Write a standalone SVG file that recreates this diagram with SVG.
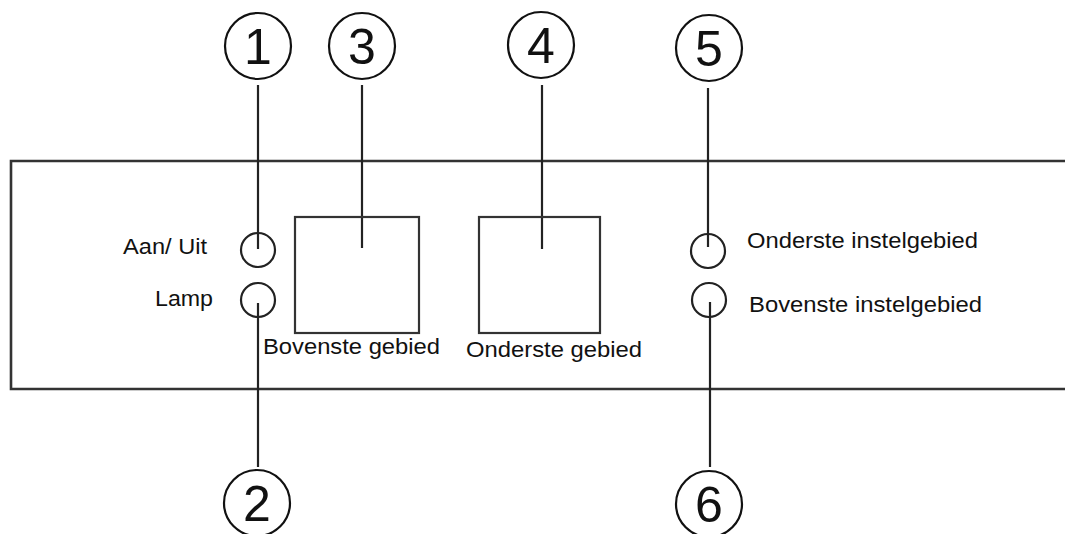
<svg xmlns="http://www.w3.org/2000/svg" width="1065" height="534" viewBox="0 0 1065 534">
<style>
.ln{stroke:#222;stroke-width:2.2;fill:none}
.bx{stroke:#333;stroke-width:2.2;fill:none}
.pn{stroke:#333;stroke-width:2.6;fill:none}
.cl{stroke:#111;stroke-width:2.2;fill:#fff}
.sc{stroke:#222;stroke-width:2.2;fill:none}
.num{font-family:"Liberation Sans",Arial,sans-serif;font-size:50px;fill:#111;text-anchor:middle}
.lb{font-family:"Liberation Sans",Arial,sans-serif;font-size:22px;fill:#111}
</style>
<rect width="1065" height="534" fill="#fff"/>
<g id="panel">
<path class="pn" d="M1066,161 H11 V389 H1066"/>
</g>
<g id="connectors">
<line class="ln" x1="258" y1="85" x2="258" y2="249"/>
<line class="ln" x1="258" y1="303" x2="258" y2="467"/>
<line class="ln" x1="362" y1="85" x2="362" y2="248"/>
<line class="ln" x1="542" y1="85" x2="542" y2="249"/>
<line class="ln" x1="708" y1="88" x2="708" y2="247"/>
<line class="ln" x1="710" y1="302" x2="710" y2="467"/>
</g>
<g id="btn-aan-uit">
<circle class="sc" cx="258" cy="250" r="17"/>
<text class="lb" x="123" y="254" textLength="84" lengthAdjust="spacingAndGlyphs">Aan/ Uit</text>
</g>
<g id="btn-lamp">
<circle class="sc" cx="258" cy="300" r="17"/>
<text class="lb" x="155" y="306" textLength="58" lengthAdjust="spacingAndGlyphs">Lamp</text>
</g>
<g id="display-bovenste">
<rect class="bx" x="295" y="217" width="124" height="116"/>
<text class="lb" x="263" y="354" textLength="177" lengthAdjust="spacingAndGlyphs">Bovenste gebied</text>
</g>
<g id="display-onderste">
<rect class="bx" x="479" y="217" width="121" height="116"/>
<text class="lb" x="466" y="357" textLength="176" lengthAdjust="spacingAndGlyphs">Onderste gebied</text>
</g>
<g id="btn-onderste-instel">
<circle class="sc" cx="708" cy="251" r="17"/>
<text class="lb" x="747" y="248" textLength="231" lengthAdjust="spacingAndGlyphs">Onderste instelgebied</text>
</g>
<g id="btn-bovenste-instel">
<circle class="sc" cx="709" cy="300" r="17"/>
<text class="lb" x="749" y="312" textLength="233" lengthAdjust="spacingAndGlyphs">Bovenste instelgebied</text>
</g>
<g id="callout-1">
<circle class="cl" cx="258" cy="46" r="33"/>
<text class="num" x="258" y="64">1</text>
</g>
<g id="callout-3">
<circle class="cl" cx="362" cy="46" r="33"/>
<text class="num" x="362" y="64">3</text>
</g>
<g id="callout-4">
<circle class="cl" cx="541" cy="45" r="33"/>
<text class="num" x="541" y="63">4</text>
</g>
<g id="callout-5">
<circle class="cl" cx="709" cy="48" r="33"/>
<text class="num" x="709" y="66">5</text>
</g>
<g id="callout-2">
<circle class="cl" cx="257" cy="503" r="33"/>
<text class="num" x="257" y="521">2</text>
</g>
<g id="callout-6">
<circle class="cl" cx="709" cy="504" r="33"/>
<text class="num" x="709" y="522">6</text>
</g>
</svg>
